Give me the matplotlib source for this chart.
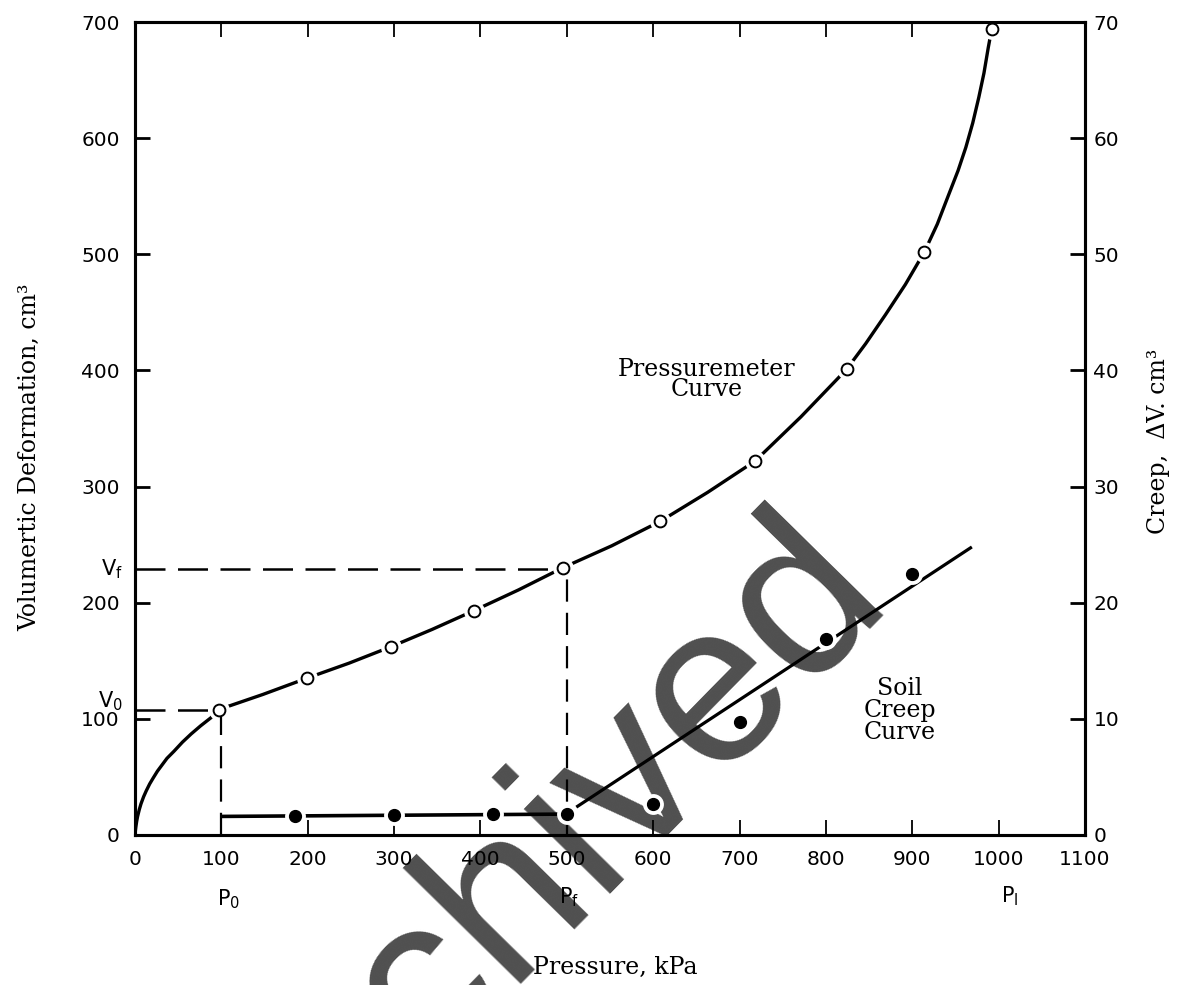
import matplotlib
matplotlib.use('Agg')
import matplotlib.pyplot as plt

# ---------------- data ----------------
# Pressuremeter test points (open circles), left axis
pm_pressure = [97, 199, 296, 392, 495, 608, 718, 824, 914, 992]
pm_volume = [108, 135, 162, 193, 230, 270, 322, 401, 502, 694]

# Pressuremeter curve
pm_curve_p = [0, 0.5, 1, 2, 3, 5, 7, 10, 13, 17, 21, 26, 31, 37, 45, 55, 65, 76, 88, 97,
              148, 199, 248, 296, 344, 392, 444, 495, 552, 608, 663, 718, 771, 824,
              846, 869, 892, 914, 929, 942, 953, 962, 970, 977, 983, 988, 991]
pm_curve_v = [0, 4, 7, 12, 16, 22, 27, 33, 38, 44, 49, 55, 60, 66, 72, 80, 87, 94, 101, 108,
              121, 135, 148, 162, 177, 193, 211, 230, 249, 270, 295, 322, 360, 401,
              423, 448, 474, 502, 526, 551, 572, 592, 613, 635, 656, 678, 690]

# Creep points (filled dots), right axis
creep_pressure = [185, 300, 415, 500, 600, 700, 800, 900]
creep_dv = [1.6, 1.7, 1.8, 1.8, 2.7, 9.7, 16.9, 22.5]

# Creep curve: flat part and fitted straight line
creep_flat_p = [100, 500]
creep_flat_dv = [1.6, 1.8]
creep_fit_p = [511, 969]
creep_fit_dv = [2.4, 24.8]

# Characteristic values
p0, pf, pl = 100, 500, 1000
v0, vf = 108, 229

x_ticks = list(range(0, 1101, 100))
y_ticks = list(range(0, 701, 100))
y2_ticks = list(range(0, 71, 10))

# ---------------- figure ----------------
W, H = 1192, 985
fig = plt.figure(figsize=(W / 100, H / 100), dpi=100)
ax = fig.add_axes([135 / W, 1 - 835 / H, 950 / W, 813 / H])
ax.patch.set_visible(False)
ax.set_xlim(0, 1100)
ax.set_ylim(0, 700)
ax2 = ax.twinx()
ax2.set_ylim(0, 70)

# watermark
fig.text(270 / W, -255 / H, 'Archived', fontsize=165, family='Liberation Sans',
         color='#4f4f4f', rotation=45.5, rotation_mode='anchor',
         ha='left', va='baseline', zorder=-5)

# pressuremeter curve
ax.plot(pm_curve_p, pm_curve_v, color='k', lw=2.4, solid_capstyle='butt',
        solid_joinstyle='round', zorder=2)
ax.plot(pm_pressure, pm_volume, 'o', ms=15, color='white', mec='none', zorder=3,
        clip_on=False)

# dashed reference lines
dash = (12, 5)
ax.plot([0, p0], [v0, v0], color='k', lw=1.8, dashes=dash, zorder=4)
ax.plot([p0, p0], [0, v0], color='k', lw=1.6, dashes=(10, 5), zorder=4)
ax.plot([0, pf], [vf, vf], color='k', lw=1.8, dashes=dash, zorder=4)
ax.plot([pf, pf], [0, vf], color='k', lw=1.6, dashes=(10, 5), zorder=4)

ax.plot(pm_pressure, pm_volume, 'o', ms=8.5, mfc='white', mec='k', mew=1.4,
        zorder=5, clip_on=False)

# creep curve
ax2.plot(creep_flat_p, creep_flat_dv, color='k', lw=2.6, solid_capstyle='butt', zorder=2)
ax2.plot(creep_fit_p, creep_fit_dv, color='k', lw=2.3, solid_capstyle='butt', zorder=2)
ax2.plot(creep_pressure, creep_dv, 'o', ms=15, color='white', mec='none', zorder=3)
ax2.plot(creep_pressure, creep_dv, 'o', ms=8.5, color='k', zorder=5)

# ticks
ax.set_xticks(x_ticks)
ax.set_yticks(y_ticks)
ax2.set_yticks(y2_ticks)
ax.tick_params(axis='x', direction='in', length=11, width=1.3, top=True,
               labeltop=False, pad=11, labelsize=14.5)
ax.tick_params(axis='y', direction='in', length=11, width=2, pad=11,
               labelsize=14.5, right=False)
ax2.tick_params(axis='y', direction='in', length=11, width=2, pad=6, labelsize=14.5)
for a in (ax, ax2):
    for s in a.spines.values():
        s.set_linewidth(2.2)

# characteristic labels
ax.text(-0.013, vf, r'$\mathregular{V_f}$', transform=ax.get_yaxis_transform(),
        ha='right', va='center', fontsize=15)
ax.text(-0.013, v0 + 7, r'$\mathregular{V_0}$', transform=ax.get_yaxis_transform(),
        ha='right', va='center', fontsize=15)
ax.text(108, -0.079, r'$\mathregular{P_0}$', transform=ax.get_xaxis_transform(),
        ha='center', va='center', fontsize=15)
ax.text(503, -0.077, r'$\mathregular{P_f}$', transform=ax.get_xaxis_transform(),
        ha='center', va='center', fontsize=15)
ax.text(1013, -0.075, r'$\mathregular{P_l}$', transform=ax.get_xaxis_transform(),
        ha='center', va='center', fontsize=15)

# curve annotations
ax.text(662, 392, 'Pressuremeter\nCurve', ha='center', va='center',
        multialignment='center', family='DejaVu Serif', fontsize=17, linespacing=0.85)
ax.text(886, 107, 'Soil\nCreep\nCurve', ha='center', va='center',
        multialignment='center', family='DejaVu Serif', fontsize=17, linespacing=0.95)

# axis titles
fig.text(30 / W, 1 - 457 / H, 'Volumertic Deformation, cm³', rotation=90,
         ha='center', va='center', family='DejaVu Serif', fontsize=17)
fig.text(1158 / W, 1 - 441 / H, 'Creep,  ΔV. cm³', rotation=90,
         ha='center', va='center', family='DejaVu Serif', fontsize=17)
fig.text(615 / W, 1 - 967 / H, 'Pressure, kPa', ha='center', va='center',
         family='DejaVu Serif', fontsize=17)

fig.savefig('out.png', dpi=100)
